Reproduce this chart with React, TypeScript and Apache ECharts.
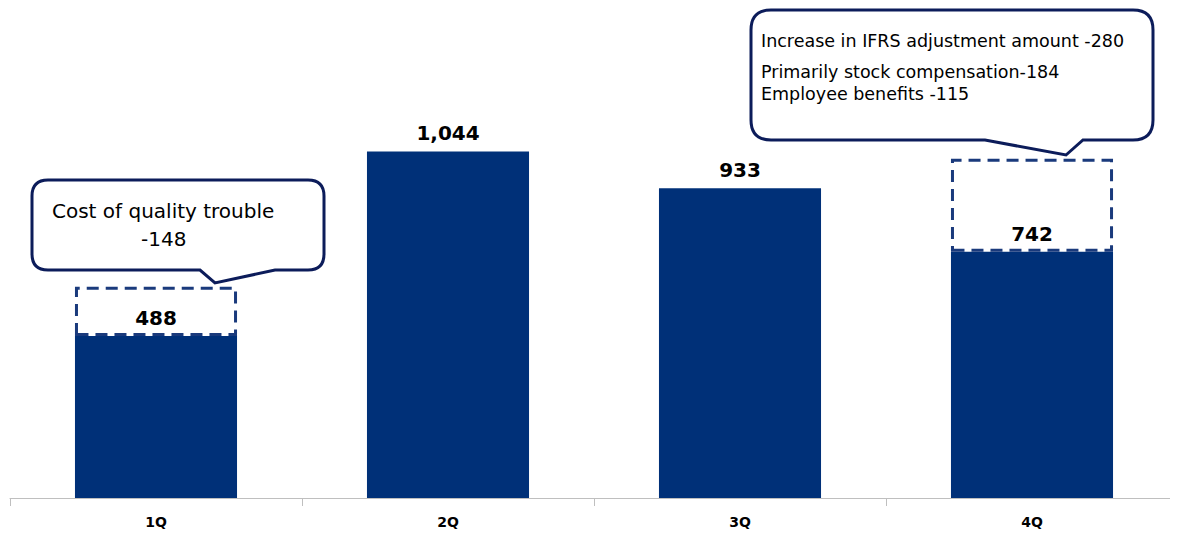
import React, { useEffect, useRef } from "react";
import * as echarts from "echarts";

const categories = ["1Q", "2Q", "3Q", "4Q"];
const profitValues = [488, 1044, 933, 742];
const adjustmentValues: (number | string)[] = [148, "-", "-", 280];
const callout1Lines = ["Cost of quality trouble", "-148"];
const callout4Lines = [
  "Increase in IFRS adjustment amount -280",
  "Primarily stock compensation-184",
  "Employee benefits -115",
];

const NAVY = "#003078";
const OUTLINE = "#0c1c5a";

function calloutPath(
  x0: number, y0: number, x1: number, y1: number, r: number,
  tl: number, tipX: number, tipY: number, tr: number
) {
  return (
    `M ${x0 + r} ${y0} L ${x1 - r} ${y0} Q ${x1} ${y0} ${x1} ${y0 + r} ` +
    `L ${x1} ${y1 - r} Q ${x1} ${y1} ${x1 - r} ${y1} ` +
    `L ${tr} ${y1} L ${tipX} ${tipY} L ${tl} ${y1} ` +
    `L ${x0 + r} ${y1} Q ${x0} ${y1} ${x0} ${y1 - r} ` +
    `L ${x0} ${y0 + r} Q ${x0} ${y0} ${x0 + r} ${y0} Z`
  );
}

let registered = false;
function registerShapes() {
  if (registered) return;
  registered = true;
  echarts.graphic.registerShape(
    "callout1",
    echarts.graphic.extendPath(calloutPath(32, 180, 324, 270, 16, 200, 215, 283, 275) as any, {}) as any
  );
  echarts.graphic.registerShape(
    "callout4",
    echarts.graphic.extendPath(calloutPath(751, 10, 1153, 140, 20, 985, 1066, 155, 1083) as any, {}) as any
  );
}

export default function App() {
  const ref = useRef<HTMLDivElement>(null);
  useEffect(() => {
    if (!ref.current) return;
    registerShapes();
    const chart = echarts.init(ref.current, undefined, { renderer: "svg" });
    const font = "Verdana, 'DejaVu Sans', sans-serif";
    chart.setOption({
      animation: false,
      grid: { left: 10, right: 0, top: 0, bottom: 41 },
      xAxis: {
        type: "category",
        data: categories,
        axisLine: { lineStyle: { color: "#bfbfbf", width: 1 } },
        axisTick: { show: true, length: 8, lineStyle: { color: "#bfbfbf" } },
        axisLabel: {
          color: "#000",
          fontWeight: "bold",
          fontSize: 14,
          fontFamily: font,
          margin: 17,
        },
      },
      yAxis: {
        type: "value",
        min: 0,
        max: 1500,
        show: false,
        splitLine: { show: false },
      },
      series: [
        {
          type: "bar",
          stack: "s",
          data: profitValues,
          barWidth: "55.5%",
          itemStyle: { color: NAVY },
          label: {
            show: true,
            position: "top",
            distance: 8,
            color: "#000",
            fontWeight: "bold",
            fontSize: 20,
            fontFamily: font,
            formatter: (p: any) => Number(p.value).toLocaleString("en-US"),
          },
          z: 2,
        },
        {
          type: "bar",
          stack: "s",
          data: adjustmentValues,
          barWidth: "55.5%",
          itemStyle: {
            color: "rgba(255,255,255,0)",
            borderColor: "#1a3a7c",
            borderWidth: 3,
            borderType: [12, 7],
          },
          z: 3,
        },
      ],
      graphic: [
        {
          type: "callout1",
          x: 0,
          y: 0,
          style: { fill: "#fff", stroke: OUTLINE, lineWidth: 3 },
          z: 10,
        },
        {
          type: "text",
          left: 52,
          top: 201,
          style: { text: callout1Lines[0], fontSize: 20, fontFamily: font, fill: "#000" },
          z: 11,
        },
        {
          type: "text",
          left: 141,
          top: 229,
          style: { text: callout1Lines[1], fontSize: 20, fontFamily: font, fill: "#000" },
          z: 11,
        },
        {
          type: "callout4",
          x: 0,
          y: 0,
          style: { fill: "#fff", stroke: OUTLINE, lineWidth: 3 },
          z: 10,
        },
        {
          type: "text",
          left: 761,
          top: 32,
          style: { text: callout4Lines[0], fontSize: 17.5, fontFamily: font, fill: "#000" },
          z: 11,
        },
        {
          type: "text",
          left: 761,
          top: 63,
          style: { text: callout4Lines[1], fontSize: 17.5, fontFamily: font, fill: "#000" },
          z: 11,
        },
        {
          type: "text",
          left: 761,
          top: 85,
          style: { text: callout4Lines[2], fontSize: 17.5, fontFamily: font, fill: "#000" },
          z: 11,
        },
      ],
    });
    return () => chart.dispose();
  }, []);
  return <div ref={ref} style={{ width: 1178, height: 539, margin: -8 }} />;
}
